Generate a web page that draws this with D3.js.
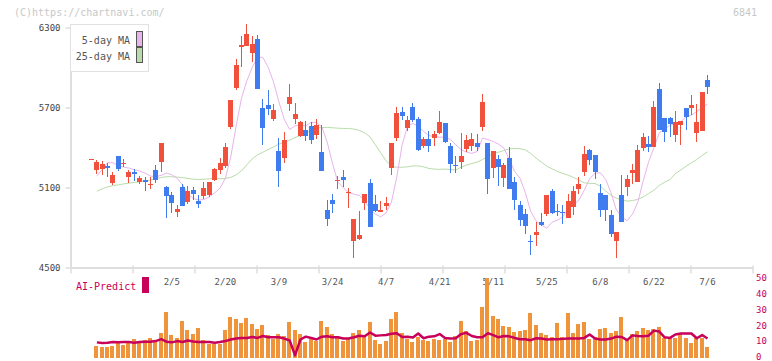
<!DOCTYPE html>
<html>
<head>
<meta charset="utf-8">
<script src="https://cdn.jsdelivr.net/npm/d3@7"></script>
<style>
  body { margin: 0; background: #fff; }
  text { font-family: "DejaVu Sans Mono", monospace; }
</style>
</head>
<body>
<svg id="chart" width="772" height="361"></svg>
<script>
// daily prices, one entry per trading day (index 0 .. 115)
const openP = [5310,5231,5238,5261,5136,5336,5280,5181,5216,5141,5156,5124,5231,5293,5103,5043,4916,5103,4991,5081,
  5001,5036,5043,5156,5231,5261,5553,5848,6156,6163,6111,6213,5696,5718,5616,5373,5323,5728,5613,5486,
  5531,5561,5493,5366,4931,5006,5148,5178,5061,4698,4713,4983,5133,4976,4916,4961,5246,5471,5666,5546,
  5703,5613,5411,5463,5471,5508,5583,5411,5271,5291,5388,5411,5433,5553,5433,5246,5313,5171,5321,5141,
  4968,4901,4701,4743,4841,4901,5073,4923,4916,4871,4953,5088,5216,5381,5343,5058,5043,4893,4698,5043,
  5103,5208,5141,5396,5426,5403,5838,5621,5621,5493,5568,5696,5696,5508,5523,5906];
const highP = [5312,5306,5300,5283,5213,5338,5313,5231,5236,5186,5176,5178,5268,5435,5111,5066,4968,5126,5111,5103,
  5043,5141,5143,5246,5321,5433,5758,6063,6238,6326,6236,6243,5763,5831,5726,5471,5516,5876,5733,5598,
  5598,5591,5613,5568,5006,5051,5186,5231,5098,4866,4923,5053,5163,5043,4998,5028,5435,5703,5703,5636,
  5733,5628,5478,5523,5523,5673,5585,5433,5336,5508,5493,5508,5501,5801,5435,5375,5343,5283,5403,5178,
  4998,4938,4743,4841,4908,5046,5088,4976,4968,5051,5111,5178,5411,5388,5345,5126,5046,4931,4768,5193,
  5193,5276,5418,5508,5486,5748,5883,5623,5628,5673,5601,5698,5793,5726,5818,5943];
const lowP = [5310,5198,5195,5181,5118,5223,5251,5133,5148,5126,5073,5088,5133,5216,4871,4908,4878,4958,4976,5006,
  4946,5013,5028,5148,5201,5246,5538,5831,6006,6160,6043,5838,5421,5643,5601,5106,5286,5676,5576,5478,
  5448,5426,5463,5221,4811,4908,5088,5106,4946,4571,4706,4931,4801,4916,4914,4931,5193,5448,5606,5523,
  5591,5373,5396,5366,5411,5501,5433,5208,5208,5238,5366,5373,5373,5523,5051,5171,5111,5103,5086,4931,
  4811,4751,4593,4661,4811,4886,4901,4886,4826,4868,4893,5051,5186,5268,5163,4878,4848,4728,4571,4838,
  5036,5126,5138,5373,5366,5401,5528,5441,5478,5441,5418,5531,5643,5441,5521,5801];
const closeP = [5312,5289,5276,5249,5193,5241,5285,5216,5201,5171,5138,5128,5156,5433,5036,4983,4938,4961,5073,5051,
  4976,5096,5141,5238,5283,5403,5756,6018,6168,6251,6176,5841,5548,5691,5681,5226,5456,5778,5651,5591,
  5486,5456,5568,5223,4863,4976,5153,5158,5066,4863,4743,5051,4803,4923,4931,4983,5433,5658,5636,5606,
  5606,5381,5463,5411,5501,5591,5441,5276,5266,5336,5456,5463,5403,5741,5163,5373,5253,5268,5088,5006,
  4856,4811,4696,4766,4818,5043,4908,4918,4911,4998,5073,5126,5351,5306,5216,4931,4931,4751,4766,4841,
  5163,5231,5381,5478,5403,5703,5531,5516,5576,5591,5598,5628,5718,5591,5816,5853];

// moving averages as drawn on the chart
const ma5 = [null,5186,5236,5286,5286,5263,5253,5246,5233,5223,5208,5186,5181,5191,5208,5196,5168,5120,5050,5018,
  5006,5010,5030,5060,5095,5170,5330,5560,5770,5900,6000,6080,6075,6000,5890,5740,5610,5535,5562,5568,
  5561,5590,5586,5556,5440,5280,5140,5100,5060,5050,5040,5000,4940,4900,4880,4910,4990,5180,5420,5560,
  5580,5560,5520,5490,5480,5478,5478,5460,5420,5385,5365,5356,5370,5470,5460,5445,5425,5395,5310,5220,
  5170,5060,4920,4850,4818,4795,4840,4855,4880,4943,4968,5006,5080,5168,5206,5211,5160,5060,4930,4880,
  4851,4900,4990,5150,5290,5400,5510,5540,5565,5580,5593,5630,5643,5670,5700,5726];
const ma25 = [null,5072,5090,5105,5114,5120,5127,5133,5138,5143,5150,5156,5165,5175,5181,5181,5178,5174,5168,5162,
  5160,5162,5165,5167,5166,5168,5176,5195,5225,5270,5315,5345,5365,5385,5405,5425,5440,5455,5475,5490,
  5510,5525,5545,5550,5551,5548,5545,5543,5543,5538,5528,5510,5480,5420,5360,5300,5260,5252,5252,5255,
  5262,5262,5255,5243,5238,5236,5238,5235,5231,5252,5268,5280,5290,5310,5330,5355,5365,5378,5390,5393,
  5391,5382,5355,5320,5290,5260,5240,5220,5205,5193,5175,5156,5135,5131,5130,5110,5075,5040,5020,5006,
  4998,5002,5011,5030,5055,5080,5115,5140,5160,5205,5230,5260,5285,5310,5340,5368];

// lower panel
const volume = [null,6.9,6.0,6.5,6.9,8.8,7.5,10,11.3,10,10.6,11.9,10.6,15,28.1,13.8,11.9,22.5,16.9,14.4,
  18.1,10.6,8.1,8.1,8.1,16.9,25,23.8,21.3,24.4,20.6,17.5,20,13.8,11.3,14.4,13.1,21.9,16.9,14.4,
  9.4,11.3,10,22.5,18.8,14.4,13.1,10,11.3,15,16.9,12.5,21.9,10.6,8.1,10,23.8,28.1,15,11.3,
  9.4,12.5,10.6,10,11.3,10.6,11.3,9.4,13.1,22.5,16.3,10,10.6,31.3,49.4,25.6,23.8,19.4,18.8,15.6,
  16.3,16.9,27.5,20,15,13.8,12.5,21.3,12.5,27.5,15,20.6,21.9,11.3,12.5,17.5,18.1,15,16.3,25,
  11.3,14.4,16.3,18.1,16.9,17.5,18.8,11.9,11.9,11.9,14.4,11.9,8.8,11.9,11.9,6.3];
const aiPredict = [null,9.2,8.8,9.0,9.4,9.2,9.4,9.4,9.0,9.4,9.6,9.6,10.0,11.2,9.6,9.2,10.0,9.4,10.4,9.8,
  9.4,9.4,9.4,9.0,9.4,10.0,11.0,11.6,12.0,12.0,12.6,12.0,13.2,12.4,12.4,12.4,11.6,10.4,1.0,11.0,
  12.8,12.0,11.0,12.8,13.0,12.4,12.4,11.6,11.6,12.4,13.4,13.0,15.4,13.4,13.6,13.8,14.6,15.0,12.6,12.8,
  12.2,14.8,11.8,12.8,13.0,14.4,12.0,11.6,11.8,14.4,15.2,13.2,12.4,12.4,15.0,13.8,12.4,13.2,13.0,12.0,
  11.2,11.2,10.6,11.8,11.6,11.0,11.2,11.2,11.4,11.6,11.6,11.6,12.0,14.2,11.6,11.0,11.0,11.6,12.8,12.6,
  10.6,13.6,13.2,13.0,13.4,16.6,16.0,12.4,12.0,14.2,14.8,14.8,14.8,11.8,13.8,11.6];

const tickIdx = [15,25,35,45,55,65,75,85,95,105,115];
const tickLabels = ["2/5","2/20","3/9","3/24","4/7","4/21","5/11","5/25","6/8","6/22","7/6"];
const priceTicks = [4500,5100,5700,6300];
const volTicks = [0,10,20,30,40,50];

const upColor = "#f0503c", downColor = "#3e7cf0";
const ma5Color = "#e8b4ec", ma25Color = "#b9dcaa";
const aiColor = "#c8005a", volColor = "#f0943c";
const gridColor = "#dedede";

const svg = d3.select("#chart");

const x = d3.scaleLinear().domain([0, openP.length - 1]).range([91.5, 707.5]);
const y = d3.scaleLinear().domain([4500, 6300]).range([267.5, 27.5]);
const yv = d3.scaleLinear().domain([0, 50]).range([357, 277.5]);
const xg = d3.scaleLinear().domain([0, 11]).range([70.5, 752.5]);

// watermark + code
svg.append("text").attr("x", 14).attr("y", 16).attr("font-size", 10).attr("fill", "#c8c8c8")
  .text("(C)https://chartnavi.com/");
svg.append("text").attr("x", 757).attr("y", 16).attr("font-size", 10).attr("fill", "#c8c8c8")
  .attr("text-anchor", "end").text("6841");

// y axis
const yAxis = svg.append("g").attr("transform", "translate(70.5,0)")
  .call(d3.axisLeft(y).tickValues(priceTicks).tickFormat(d3.format("d"))
    .tickSize(5).tickSizeOuter(0).tickPadding(5));
yAxis.select(".domain").attr("stroke", gridColor).attr("stroke-width", 2);
yAxis.selectAll(".tick line").attr("stroke", gridColor).attr("stroke-width", 1.5);
yAxis.selectAll(".tick text").attr("font-size", 9).attr("fill", "#444")
  .attr("font-family", "DejaVu Sans Mono, monospace");

// x axis (plain ticks)
const xAxis = svg.append("g").attr("transform", "translate(0,267.5)")
  .call(d3.axisBottom(xg).ticks(11).tickSize(6).tickSizeOuter(0).tickFormat(""));
xAxis.select(".domain").attr("stroke", gridColor).attr("stroke-width", 2);
xAxis.selectAll(".tick line").attr("stroke", gridColor).attr("stroke-width", 1.5).attr("y1", -2);

svg.append("g").selectAll("text").data(tickIdx).join("text")
  .attr("x", d => x(d)).attr("y", 285).attr("text-anchor", "middle")
  .attr("font-size", 9).attr("fill", "#555")
  .text((d, i) => tickLabels[i]);

// moving averages
const lineFor = d3.line().defined(d => d != null).x((d, i) => x(i)).y(d => y(d));
svg.append("path").datum(ma25).attr("d", lineFor).attr("fill", "none")
  .attr("stroke", ma25Color).attr("stroke-width", 1);
svg.append("path").datum(ma5).attr("d", lineFor).attr("fill", "none")
  .attr("stroke", ma5Color).attr("stroke-width", 1);

// candles
const candles = svg.append("g").attr("shape-rendering", "crispEdges")
  .selectAll("g").data(openP.map((o, i) => i)).join("g");
candles.append("line")
  .attr("x1", i => Math.floor(x(i)) + 0.5).attr("x2", i => Math.floor(x(i)) + 0.5)
  .attr("y1", i => y(highP[i])).attr("y2", i => y(lowP[i]))
  .attr("stroke", i => closeP[i] >= openP[i] ? upColor : downColor);
candles.append("rect")
  .attr("x", i => Math.round(x(i) - 2.5)).attr("width", 5)
  .attr("y", i => y(Math.max(openP[i], closeP[i])))
  .attr("height", i => Math.max(1, y(Math.min(openP[i], closeP[i])) - y(Math.max(openP[i], closeP[i]))))
  .attr("fill", i => closeP[i] >= openP[i] ? upColor : downColor);

// legend
const legend = svg.append("g");
legend.append("rect").attr("x", 70.5).attr("y", 24.5).attr("width", 78).attr("height", 47)
  .attr("fill", "#fff").attr("stroke", "#e2e2e2");
[["5-day MA", ma5Color], ["25-day MA", ma25Color]].forEach((d, i) => {
  legend.append("text").attr("x", 130).attr("y", 44 + i * 16).attr("text-anchor", "end")
    .attr("font-size", 10).attr("fill", "#555").text(d[0]);
  legend.append("rect").attr("x", 136.5).attr("y", 31.5 + i * 16).attr("width", 6).attr("height", 15)
    .attr("fill", d[1]).attr("stroke", "#555");
});

// lower panel: volume bars + AI-Predict line
svg.append("g").attr("shape-rendering", "crispEdges")
  .selectAll("rect").data(volume.map((v, i) => i).filter(i => volume[i] != null)).join("rect")
  .attr("x", i => Math.round(x(i) - 2.5)).attr("width", 4)
  .attr("y", i => yv(volume[i])).attr("height", i => yv(0) + 1 - yv(volume[i]))
  .attr("fill", volColor);

svg.append("path").datum(aiPredict)
  .attr("d", d3.line().defined(d => d != null).x((d, i) => x(i)).y(d => yv(d)))
  .attr("fill", "none").attr("stroke", aiColor).attr("stroke-width", 2.5).attr("stroke-linejoin", "round");

const vAxis = svg.append("g").attr("transform", "translate(751,0)")
  .call(d3.axisRight(yv).tickValues(volTicks).tickSize(0).tickPadding(5));
vAxis.select(".domain").remove();
vAxis.selectAll(".tick text").attr("font-size", 9).attr("fill", aiColor)
  .attr("font-family", "DejaVu Sans Mono, monospace");

svg.append("text").attr("x", 76).attr("y", 290).attr("font-size", 10).attr("fill", aiColor).text("AI-Predict");
svg.append("rect").attr("x", 142).attr("y", 277).attr("width", 7).attr("height", 16).attr("fill", aiColor);
</script>
</body>
</html>
